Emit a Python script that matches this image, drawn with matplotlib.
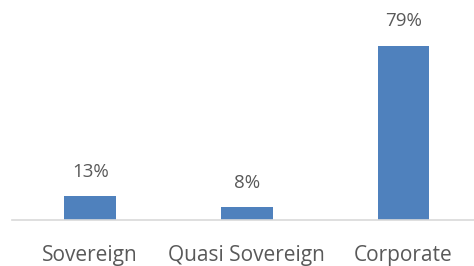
import matplotlib.pyplot as plt

categories = ["Sovereign", "Quasi Sovereign", "Corporate"]
values = [13, 8, 79]
labels = ["13%", "8%", "79%"]

fig = plt.figure(figsize=(4.74, 2.66), dpi=100)
ax = fig.add_axes([12 / 474, 46 / 266, 462 / 474, 220 / 266])

bars = ax.bar(range(len(categories)), values, width=0.33, color="#4f81bd")
ax.bar_label(bars, labels=labels, padding=11, fontsize=13.5, color="#595959",
             family="Open Sans")

ax.set_xlim(-0.5, 2.45)
ax.set_ylim(2.4, 99)
ax.set_xticks(range(len(categories)))
ax.set_xticklabels(categories, fontsize=15, color="#595959", family="Open Sans")
ax.tick_params(axis="x", length=0, pad=18)
ax.set_yticks([])
for side in ["top", "right", "left"]:
    ax.spines[side].set_visible(False)
ax.spines["bottom"].set_color("#d9d9d9")
ax.spines["bottom"].set_linewidth(1.2)

fig.savefig("out.png")
